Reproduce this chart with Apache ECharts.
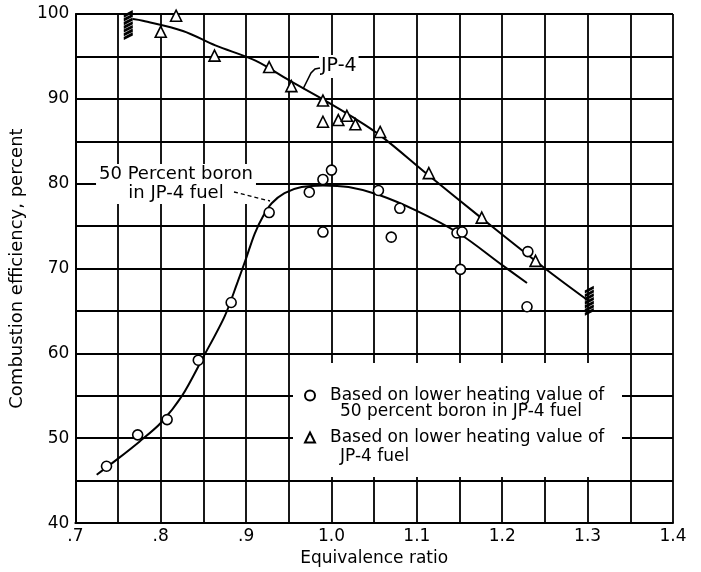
<!DOCTYPE html>
<html>
<head>
<meta charset="utf-8">
<script src="https://cdn.jsdelivr.net/npm/echarts@6/dist/echarts.min.js"></script>
<style>
  html, body { margin: 0; padding: 0; background: #fff; }
  #chart { width: 701px; height: 572px; }
</style>
</head>
<body>
<div id="chart"></div>
<script>
// tick labels
var xTickLabels = [".7", ".8", ".9", "1.0", "1.1", "1.2", "1.3", "1.4"];
var yTickLabels = ["40", "50", "60", "70", "80", "90", "100"];

// circles: 50 percent boron in JP-4 fuel
var boronPoints = [
  [0.7365, 46.7], [0.773, 50.4], [0.8075, 52.2], [0.844, 59.2], [0.8825, 66.0],
  [0.927, 76.6], [0.974, 79.0], [0.990, 80.5], [1.0, 81.6], [0.990, 74.3],
  [1.055, 79.2], [1.080, 77.1], [1.070, 73.7], [1.147, 74.2], [1.153, 74.3],
  [1.151, 69.9], [1.230, 72.0], [1.229, 65.5]
];
// triangles: JP-4 fuel
var jp4Points = [
  [0.800, 97.9], [0.818, 99.8], [0.863, 95.1], [0.927, 93.75], [0.953, 91.5],
  [0.990, 89.8], [0.990, 87.3], [1.008, 87.5], [1.018, 88.0], [1.028, 87.0],
  [1.057, 86.1], [1.114, 81.25], [1.176, 76.0], [1.239, 70.9]
];
// faired curves
var boronCurve = [
  [0.725, 45.7], [0.75, 47.6], [0.775, 49.6], [0.80, 51.8], [0.825, 55.0],
  [0.85, 59.6], [0.875, 64.4], [0.89, 68.4], [0.90, 71.2], [0.91, 74.1],
  [0.92, 76.2], [0.93, 77.7], [0.945, 78.9], [0.965, 79.6], [0.99, 79.8],
  [1.02, 79.6], [1.055, 78.7], [1.10, 76.8], [1.15, 74.1], [1.20, 70.4],
  [1.229, 68.3]
];
var jp4Curve = [
  [0.7675, 99.4], [0.779, 99.2], [0.826, 98.0], [0.864, 96.3], [0.911, 94.5],
  [0.950, 92.2], [0.989, 90.0], [1.024, 87.9], [1.057, 85.7], [1.113, 81.05],
  [1.175, 76.0], [1.249, 70.1], [1.301, 66.2]
];
// hatched end marks of the JP-4 curve
var jp4Ends = [[0.762, 98.7], [1.302, 66.2]];

var boronName = "Based on lower heating value of 50 percent boron in JP-4 fuel";
var jp4Name = "Based on lower heating value of JP-4 fuel";

var font = "DejaVu Sans";
var chart = echarts.init(document.getElementById("chart"), null, { renderer: "canvas" });

chart.setOption({
  backgroundColor: "#fff",
  animation: false,
  grid: { left: 72, right: 28, top: 14, bottom: 46 },
  xAxis: {
    type: "value",
    min: 0.7,
    max: 1.4,
    interval: 0.05,
    name: "Equivalence ratio",
    nameLocation: "middle",
    nameGap: 26,
    nameTextStyle: { fontFamily: font, fontSize: 17, color: "#000" },
    axisLine: { lineStyle: { color: "#000", width: 2 } },
    axisTick: { show: false },
    splitLine: { lineStyle: { color: "#000", width: 1.8 } },
    axisLabel: {
      fontFamily: font,
      fontSize: 17,
      color: "#000",
      margin: 5,
      showMinLabel: true,
      showMaxLabel: true,
      formatter: function (v) {
        var k = Math.round((v - 0.7) * 100);
        if (k % 10 !== 0) return "";
        return xTickLabels[k / 10];
      }
    }
  },
  yAxis: {
    type: "value",
    min: 40,
    max: 100,
    interval: 5,
    name: "Combustion efficiency, percent",
    nameLocation: "middle",
    nameGap: 32,
    nameTextStyle: { fontFamily: font, fontSize: 18, color: "#000" },
    axisLine: { lineStyle: { color: "#000", width: 2 } },
    axisTick: { show: false },
    splitLine: { lineStyle: { color: "#000", width: 1.8 } },
    axisLabel: {
      fontFamily: font,
      fontSize: 17,
      color: "#000",
      margin: 6,
      formatter: function (v) {
        var k = Math.round(v - 40);
        if (k % 10 !== 0) return "";
        return yTickLabels[k / 10];
      }
    }
  },
  legend: {
    left: 299,
    top: 382,
    orient: "vertical",
    itemWidth: 10,
    itemHeight: 10,
    itemGap: 25,
    selectedMode: false,
    textStyle: { fontFamily: font, fontSize: 17, color: "#000", padding: [0, 0, 0, 10] },
    formatter: function () {
      return "Based on lower heating value of";
    },
    data: [
      { name: boronName, icon: "circle" },
      { name: jp4Name, icon: "triangle" }
    ]
  },
  graphic: [
    // white panel behind the key
    {
      type: "rect",
      z: 3,
      shape: { x: 293, y: 363, width: 329, height: 114 },
      style: { fill: "#fff" }
    },
    {
      type: "text",
      z: 5,
      left: 340,
      top: 403,
      style: { text: "50 percent boron in JP-4 fuel", font: "17px " + font, fill: "#000" }
    },
    {
      type: "text",
      z: 5,
      left: 340,
      top: 448,
      style: { text: "JP-4 fuel", font: "17px " + font, fill: "#000" }
    },
    // curve labels
    {
      type: "text",
      z: 5,
      x: 176,
      y: 164,
      style: {
        text: "50 Percent boron\nin JP-4 fuel",
        font: "18px " + font,
        fill: "#000",
        align: "center",
        verticalAlign: "top",
        lineHeight: 19,
        backgroundColor: "#fff",
        padding: [1, 3]
      }
    },
    {
      type: "polyline",
      z: 5,
      shape: { points: [[234, 192], [270, 201]] },
      style: { stroke: "#000", lineWidth: 1.3, lineDash: [4, 3] }
    },
    {
      type: "text",
      z: 5,
      left: 319,
      top: 55,
      style: {
        text: "JP-4",
        font: "19px " + font,
        fill: "#000",
        backgroundColor: "#fff",
        padding: [2, 2]
      }
    },
    {
      type: "polyline",
      z: 5,
      shape: { points: [[303, 89], [307, 81], [311, 73], [315, 69], [320, 68]] },
      style: { stroke: "#000", lineWidth: 1.6, fill: null }
    }
  ],
  series: [
    {
      name: "boron curve",
      type: "line",
      data: boronCurve,
      smooth: 0.3,
      showSymbol: false,
      silent: true,
      lineStyle: { color: "#000", width: 2 },
      z: 2
    },
    {
      name: "jp4 curve",
      type: "line",
      data: jp4Curve,
      smooth: 0.35,
      showSymbol: false,
      silent: true,
      lineStyle: { color: "#000", width: 2 },
      z: 2
    },
    {
      name: "jp4 ends",
      type: "scatter",
      data: jp4Ends,
      symbol: "path://M0,5L9,0M0,9L9,4M0,13L9,8M0,17L9,12M0,21L9,16M0,25L9,20M0,29L9,24",
      symbolSize: [9, 27],
      itemStyle: { color: "none", borderColor: "#000", borderWidth: 1.8, opacity: 1 },
      z: 3
    },
    {
      name: boronName,
      type: "scatter",
      data: boronPoints,
      symbol: "circle",
      symbolSize: 10,
      itemStyle: { color: "#fff", borderColor: "#000", borderWidth: 1.6, opacity: 1 },
      z: 4
    },
    {
      name: jp4Name,
      type: "scatter",
      data: jp4Points,
      symbol: "triangle",
      symbolSize: 11,
      itemStyle: { color: "#fff", borderColor: "#000", borderWidth: 1.6, opacity: 1 },
      z: 4
    }
  ]
});
</script>
</body>
</html>
